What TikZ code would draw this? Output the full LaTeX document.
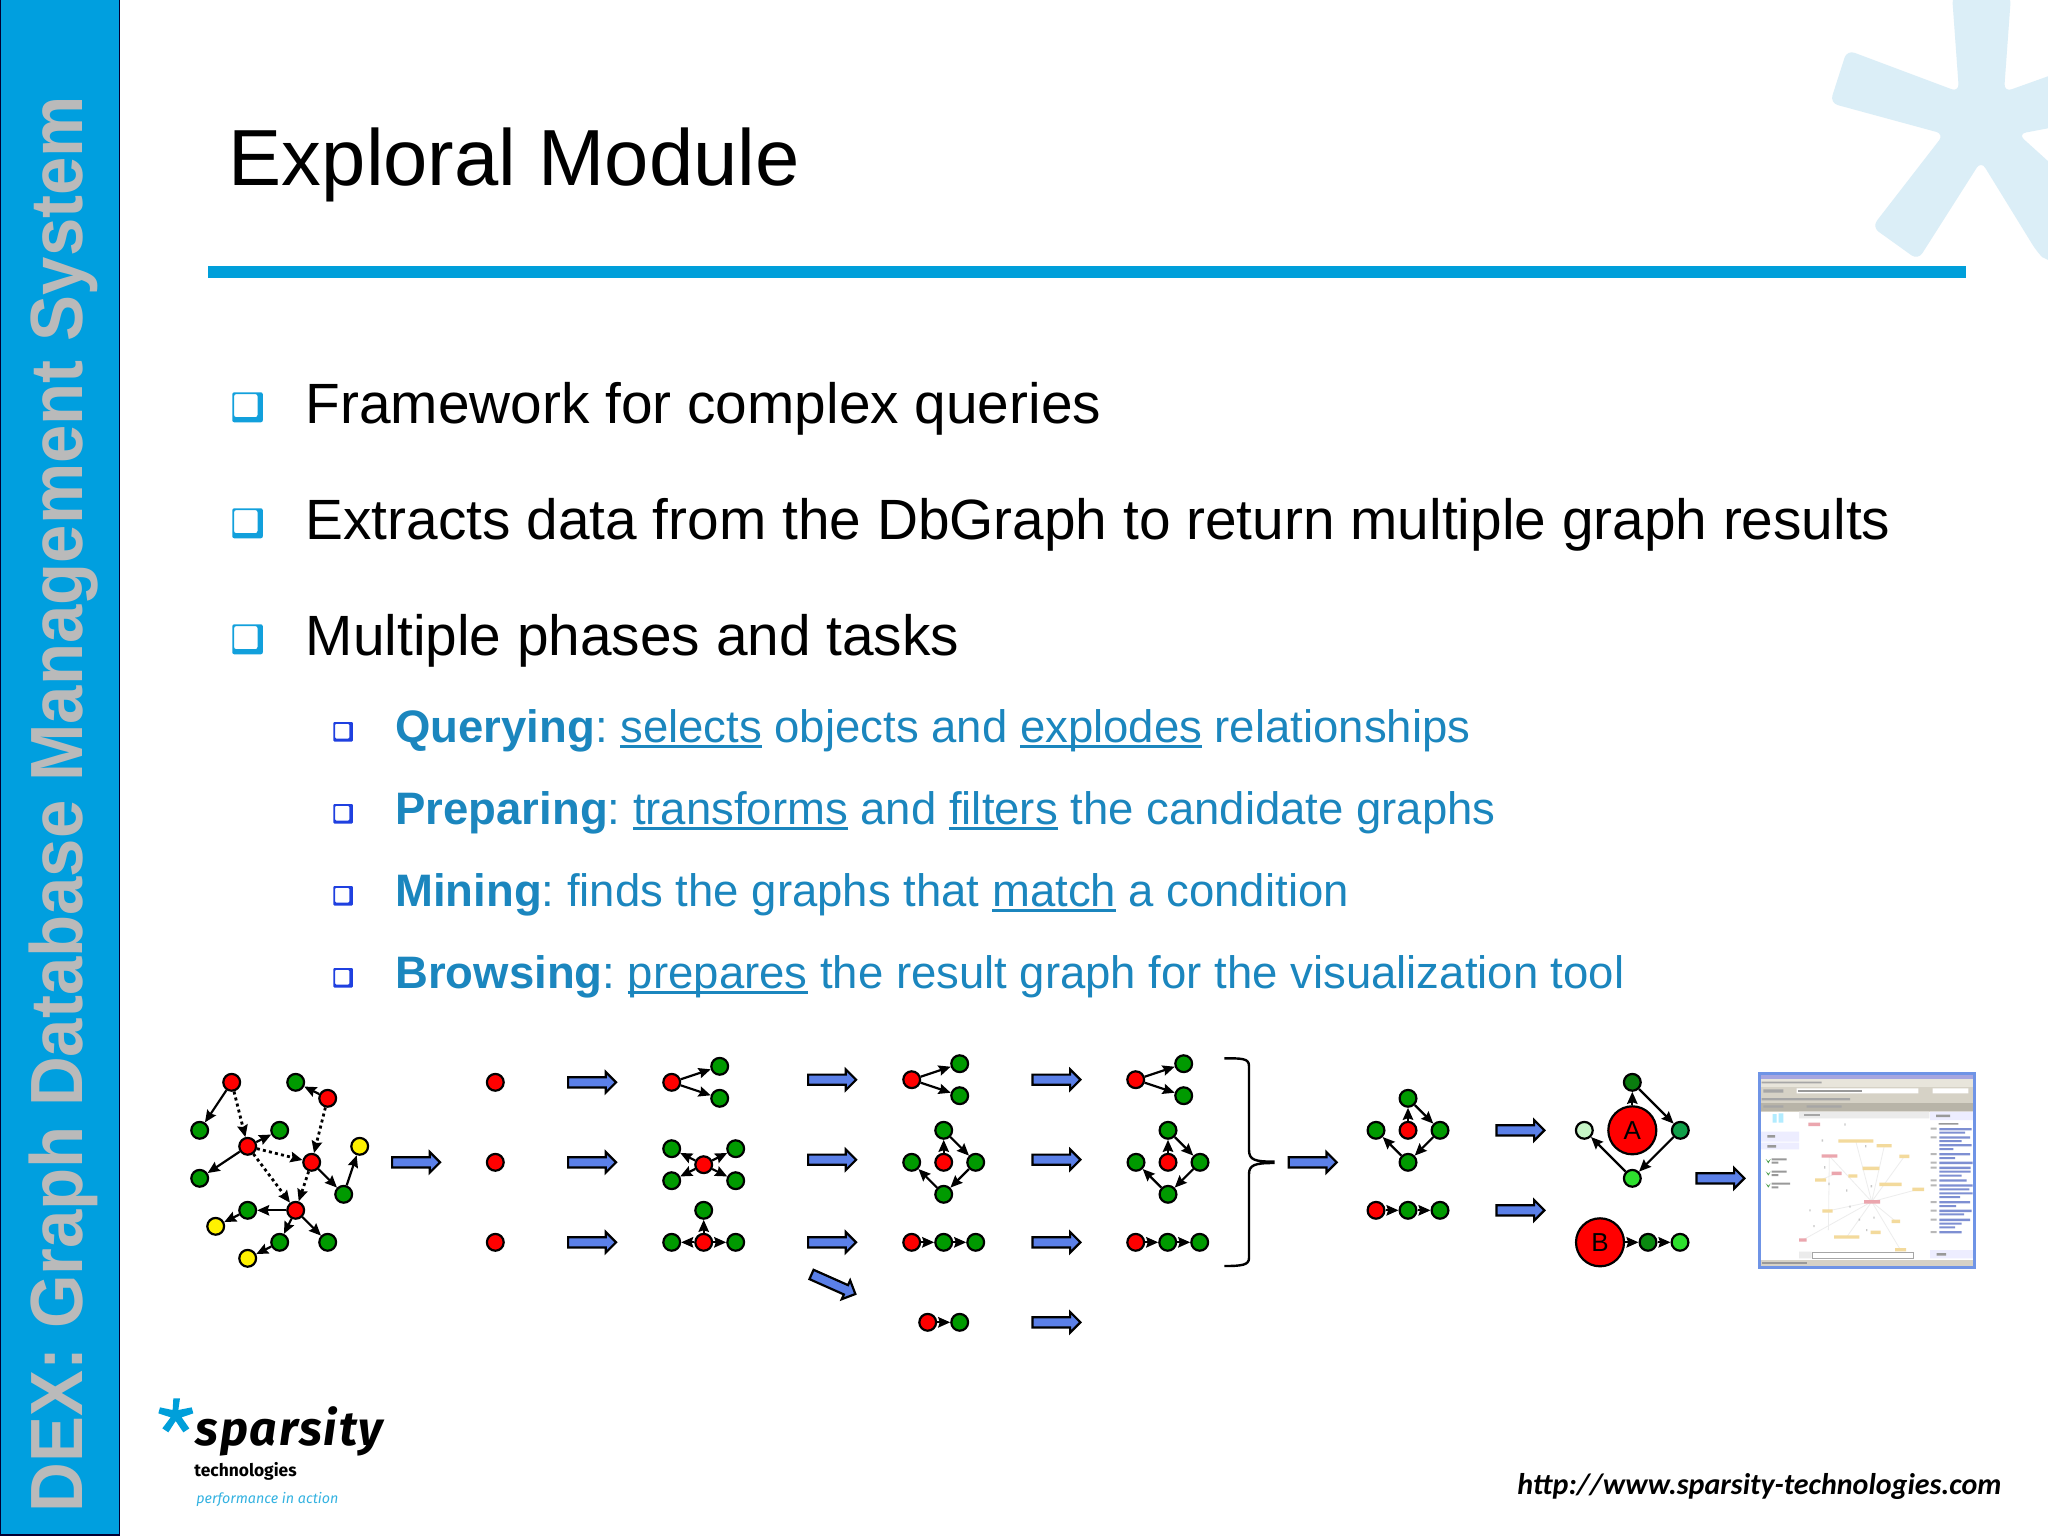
\documentclass[tikz,border=0pt]{standalone}
\usepackage{fontspec}
\usepackage{tikz}
\usetikzlibrary{arrows,arrows.meta,shapes,positioning}
\setmainfont{Liberation Sans}
\newfontfamily\sidefont[FakeStretch=0.931]{Liberation Sans}
\newfontfamily\logofont{Fira Sans}
\newfontfamily\logoname[LetterSpace=4]{Fira Sans}
\newfontfamily\urlfont{Carlito}
\definecolor{barblue}{HTML}{009FDF}
\definecolor{rulerblue}{HTML}{009FDA}
\definecolor{washblue}{HTML}{DBEEF7}
\definecolor{subblue}{HTML}{1B86BE}
\definecolor{smallbox}{HTML}{1F40E0}
\definecolor{bigbox}{HTML}{12A0DC}
\definecolor{vred}{HTML}{FF0000}
\definecolor{vgreen}{HTML}{009A00}
\definecolor{flowblue}{HTML}{5B80E8}
\definecolor{shotframe}{HTML}{6F94E6}
\definecolor{shotbar}{HTML}{D6D2C6}
\definecolor{shotmenu}{HTML}{E8E5DB}
\definecolor{shotdark}{HTML}{B8B4A8}
\definecolor{shotlabel}{HTML}{F3DA9C}
\definecolor{shotpink}{HTML}{EBA6AE}
\definecolor{shottext}{HTML}{7E8FD2}
\newsavebox{\ulbox}
\newcommand{\ulword}[1]{\sbox\ulbox{#1}\rlap{\rule[-0.13em]{\wd\ulbox}{0.055em}}\usebox\ulbox}
\tikzset{
    vertex/.style={circle,draw=black,line width=1.1pt,minimum size=8.4pt,inner sep=0pt},
    redv/.style={vertex,fill=vred},
    greenv/.style={vertex,fill=vgreen},
    yellowv/.style={vertex,fill=yellow},
    bigv/.style={vertex,fill=vred,minimum size=24pt,font=\fontsize{13}{13}\selectfont},
    link/.style={->,line width=1.1pt},
    dotlink/.style={->,line width=1.4pt,dash pattern=on 1.5pt off 1.6pt},
    flow/.style={single arrow,draw=black,fill=flowblue,line width=1.1pt,minimum height=24pt,
        inner sep=2pt,single arrow head extend=2.6pt,single arrow head indent=0pt,anchor=tail},
    line1/.style={anchor=base west,inner sep=0pt,font=\fontsize{28.4}{34}\selectfont},
    line2/.style={anchor=base west,inner sep=0pt,text=subblue,font=\fontsize{22.75}{27}\selectfont\frenchspacing},
    bigbullet/.pic={\fill[bigbox,even odd rule,rounded corners=1pt] (0,0) rectangle (30.5,30) (1.8,1.8) rectangle (25.2,24.8);},
    smallbullet/.pic={\fill[smallbox,even odd rule,rounded corners=.5pt] (0,0) rectangle (19.5,19.5) (1.8,1.8) rectangle (16,16.5);}
}

\begin{document}
\begin{tikzpicture}[>={Stealth[length=6pt,width=5.2pt,inset=.8pt]},x=0.5pt,y=-0.5pt,node distance=16pt]
    \useasboundingbox (0,0) rectangle (2048,1536);
    \fill[white] (0,0) rectangle (2048,1536);

    % page furniture
    \begin{scope}
    \clip (0,0) rectangle (2048,1536);
    \fill[washblue,rounded corners=4pt] (1952,-5) -- (1959,92) -- (1847,50) -- (1830,103) -- (1944,134)
        -- (1872,227) -- (1918,260) -- (1981,161) -- (2037,252) -- (2046,261) -- (2060,261) -- (2060,172) -- (2018,134)
        -- (2060,126) -- (2060,72) -- (2004,92) -- (2011,-5) -- cycle;
    \end{scope}
    \fill[barblue,draw=black!80!blue,line width=.6pt] (.5,-2) rectangle (119.5,1535);
    \node[anchor=base west,rotate=90,inner sep=0pt,text=black!27,font=\sidefont\fontsize{37}{37}\selectfont\bfseries] (sidetitle) at (82,1513)
        {DEX: Graph Database Management System};
    \fill[rulerblue] (208,266) rectangle (1966,278);
    \node[anchor=base west,inner sep=0pt,font=\fontsize{39.8}{48}\selectfont] (title) at (228.5,185.5) {Exploral Module};

    % bullets
    \pic (p1) at (232.3,392.3) {bigbullet};
    \pic (p2) at (232.3,508.3) {bigbullet};
    \pic (p3) at (232.3,624.3) {bigbullet};
    \pic (s1) at (333.3,722) {smallbullet};
    \pic (s2) at (333.3,804) {smallbullet};
    \pic (s3) at (333.3,886) {smallbullet};
    \pic (s4) at (333.3,968) {smallbullet};
    \node[line1] (l1) at (305.3,423.3) {Framework for complex queries};
    \node[line1] (l2) at (305.3,539.3) {Extracts data from the DbGraph to return multiple graph results};
    \node[line1] (l3) at (305.3,655.7) {Multiple phases and tasks};
    \node[line2] (q1) at (395,742) {\textbf{Querying}: \ulword{selects} objects and \ulword{explodes} relationships};
    \node[line2] (q2) at (395,824) {\textbf{Preparing}: \ulword{transforms} and \ulword{filters} the candidate graphs};
    \node[line2] (q3) at (395,906) {\textbf{Mining}: finds the graphs that \ulword{match} a condition};
    \node[line2] (q4) at (395,988) {\textbf{Browsing}: \ulword{prepares} the result graph for the visualization tool};

    % source graph
    \node[redv] (a1) at (231.7,1082.3) {};
    \node[greenv] (a2) [right of=a1, xshift=16pt] {};
    \node[redv] (a3) [right of=a2, yshift=-8pt] {};
    \node[greenv] (a4) [left of=a1, yshift=-24pt] {};
    \node[greenv] (a5) [below of=a2, xshift=-8pt, yshift=-8pt] {};
    \node[redv] (a6) [below of=a1, xshift=8pt, yshift=-16pt] {};
    \node[yellowv] (a7) [right of=a6, xshift=40pt] {};
    \node[greenv] (a8) [below of=a4, yshift=-8pt] {};
    \node[redv] (a9) [right of=a6, xshift=16pt, yshift=-8pt] {};
    \node[greenv] (a10) [right of=a9, yshift=-16pt] {};
    \node[redv] (a11) [below of=a9, xshift=-8pt, yshift=-8pt] {};
    \node[greenv] (a12) [left of=a11, xshift=-8pt] {};
    \node[yellowv] (a13) [left of=a12, yshift=-8pt] {};
    \node[greenv] (a14) [below of=a11, xshift=-8pt] {};
    \node[greenv] (a15) [below of=a11, xshift=16pt] {};
    \node[yellowv] (a16) [left of=a14, yshift=-8pt] {};
    \path[link]
    (a1) edge (a4)
    (a3) edge (a2)
    (a6) edge (a5)
    (a6) edge (a8)
    (a9) edge (a10)
    (a10) edge (a7)
    (a11) edge (a12)
    (a12) edge (a13)
    (a11) edge (a14)
    (a14) edge (a16)
    (a11) edge (a15)
    ;
    \path[dotlink]
    (a1) edge (a6)
    (a3) edge (a9)
    (a6) edge (a9)
    (a6) edge (a11)
    (a9) edge (a11)
    ;

    % selected objects
    \node[redv] (b1) at (495.3,1082.3) {};
    \node[redv] (b2) [below of=b1, yshift=-24pt] {};
    \node[redv] (b3) [below of=b2, yshift=-24pt] {};

    % exploded
    \node[redv] (c1) at (671.7,1082.3) {};
    \node[greenv] (c1a) [right of=c1, xshift=8pt, yshift=8pt] {};
    \node[greenv] (c1b) [right of=c1, xshift=8pt, yshift=-8pt] {};
    \node[redv] (c2) at (703.7,1164.7) {};
    \node[greenv] (c2a) [left of=c2, yshift=8pt] {};
    \node[greenv] (c2b) [right of=c2, yshift=8pt] {};
    \node[greenv] (c2c) [left of=c2, yshift=-8pt] {};
    \node[greenv] (c2d) [right of=c2, yshift=-8pt] {};
    \node[redv] (c3) at (703.7,1242.3) {};
    \node[greenv] (c3a) [above of=c3] {};
    \node[greenv] (c3b) [left of=c3] {};
    \node[greenv] (c3c) [right of=c3] {};
    \path[link]
    (c1) edge (c1a)
    (c1) edge (c1b)
    (c2) edge (c2a)
    (c2) edge (c2b)
    (c2) edge (c2c)
    (c2) edge (c2d)
    (c3) edge (c3a)
    (c3) edge (c3b)
    (c3) edge (c3c)
    ;

    % transformed
    \node[redv] (d1) at (911.7,1079.7) {};
    \node[greenv] (d1a) [right of=d1, xshift=8pt, yshift=8pt] {};
    \node[greenv] (d1b) [right of=d1, xshift=8pt, yshift=-8pt] {};
    \node[redv] (d2) at (943.7,1162.3) {};
    \node[greenv] (d2a) [above of=d2] {};
    \node[greenv] (d2b) [right of=d2] {};
    \node[greenv] (d2c) [below of=d2] {};
    \node[greenv] (d2d) [left of=d2] {};
    \node[redv] (d3) at (911.7,1242.3) {};
    \node[greenv] (d3a) [right of=d3] {};
    \node[greenv] (d3b) [right of=d3a] {};
    \node[redv] (d4) at (927.7,1322.3) {};
    \node[greenv] (d4a) [right of=d4] {};
    \path[link]
    (d1) edge (d1a)
    (d1) edge (d1b)
    (d2) edge (d2a)
    (d2a) edge (d2b)
    (d2b) edge (d2c)
    (d2c) edge (d2d)
    (d3) edge (d3a)
    (d3a) edge (d3b)
    (d4) edge (d4a)
    ;

    % candidates
    \node[redv] (e1) at (1135.7,1079.7) {};
    \node[greenv] (e1a) [right of=e1, xshift=8pt, yshift=8pt] {};
    \node[greenv] (e1b) [right of=e1, xshift=8pt, yshift=-8pt] {};
    \node[redv] (e2) at (1168,1162.3) {};
    \node[greenv] (e2a) [above of=e2] {};
    \node[greenv] (e2b) [right of=e2] {};
    \node[greenv] (e2c) [below of=e2] {};
    \node[greenv] (e2d) [left of=e2] {};
    \node[redv] (e3) at (1135.7,1242.3) {};
    \node[greenv] (e3a) [right of=e3] {};
    \node[greenv] (e3b) [right of=e3a] {};
    \path[link]
    (e1) edge (e1a)
    (e1) edge (e1b)
    (e2) edge (e2a)
    (e2a) edge (e2b)
    (e2b) edge (e2c)
    (e2c) edge (e2d)
    (e3) edge (e3a)
    (e3a) edge (e3b)
    ;
    \draw[line width=1.2pt] (1224.3,1058.3) .. controls (1242,1058.3) and (1249,1058.3) .. (1249,1066) -- (1249,1150)
        .. controls (1249,1160) and (1255,1161.6) .. (1273.3,1161.6) -- (1273.3,1163)
        .. controls (1255,1163) and (1249,1165) .. (1249,1174) -- (1249,1258)
        .. controls (1249,1265) and (1242,1266) .. (1224.3,1266);

    % mined
    \node[redv] (f1) at (1408,1130.3) {};
    \node[greenv] (f1a) [above of=f1] {};
    \node[greenv] (f1b) [right of=f1] {};
    \node[greenv] (f1c) [below of=f1] {};
    \node[greenv] (f1d) [left of=f1] {};
    \node[redv] (f2) at (1376,1210.3) {};
    \node[greenv] (f2a) [right of=f2] {};
    \node[greenv] (f2b) [right of=f2a] {};
    \path[link]
    (f1) edge (f1a)
    (f1a) edge (f1b)
    (f1b) edge (f1c)
    (f1c) edge (f1d)
    (f2) edge (f2a)
    (f2a) edge (f2b)
    ;

    % browsing
    \node[bigv] (g1) at (1632.3,1130.3) {A};
    \node[vertex,fill={rgb,255:red,10;green,125;blue,15}] (g1a) [above of=g1, yshift=8pt] {};
    \node[vertex,fill={rgb,255:red,16;green,160;blue,74}] (g1b) [right of=g1, xshift=8pt] {};
    \node[vertex,fill={rgb,255:red,46;green,224;blue,46}] (g1c) [below of=g1, yshift=-8pt] {};
    \node[vertex,fill={rgb,255:red,198;green,245;blue,198}] (g1d) [left of=g1, xshift=-8pt] {};
    \node[bigv] (g2) at (1600,1242.3) {B};
    \node[vertex,fill={rgb,255:red,10;green,138;blue,16}] (g2a) [right of=g2, xshift=8pt] {};
    \node[vertex,fill={rgb,255:red,46;green,224;blue,46}] (g2b) [right of=g2a] {};
    \path[link]
    (g1) edge (g1a)
    (g1a) edge (g1b)
    (g1b) edge (g1c)
    (g1c) edge (g1d)
    (g2) edge (g2a)
    (g2a) edge (g2b)
    ;

    % block arrows
    \node[flow] (r1) at (391,1162.3) {};
    \node[flow] (r2) at (567,1082.3) {};
    \node[flow] (r3) at (567,1162.3) {};
    \node[flow] (r4) at (567,1242.3) {};
    \node[flow] (r5) at (807,1079.7) {};
    \node[flow] (r6) at (807,1159.7) {};
    \node[flow] (r7) at (807,1242.3) {};
    \node[flow,rotate=-24] (r8) at (810.5,1274) {};
    \node[flow] (r9) at (1031.3,1079.7) {};
    \node[flow] (r10) at (1031.3,1159.7) {};
    \node[flow] (r11) at (1031.3,1242.3) {};
    \node[flow] (r12) at (1031.3,1322.3) {};
    \node[flow] (r13) at (1287.6,1162.3) {};
    \node[flow] (r14) at (1495.3,1130.3) {};
    \node[flow] (r15) at (1495.3,1210.3) {};
    \node[flow] (r16) at (1695.3,1178.3) {};

    % screenshot, drawn in thirds of a pixel
    \begin{scope}[shift={(1500,1030)},x=0.16667pt,y=-0.16667pt]
    \fill[white] (775,128) rectangle (1425,715);
    \fill[shotbar] (780,130) rectangle (1420,245);
    \fill[black!35!blue!35!white] (780,133) rectangle (1420,148);
    \fill[shotmenu] (780,148) rectangle (1420,170);
    \fill[shotdark] (780,218) rectangle (1420,242);
    \fill[white] (890,175) rectangle (1255,190) (1298,175) rectangle (1405,190);
    \fill[black!35] (785,155) rectangle (965,160) (790,178) rectangle (850,188)
        (785,204) rectangle (1050,211) (790,226) rectangle (850,233) (920,226) rectangle (1025,233);
    \fill[black!40] (895,181) rectangle (1085,185);
    \fill[blue!7] (780,305) rectangle (897,335) (780,338) rectangle (897,358) (1290,245) rectangle (1420,270) (1290,660) rectangle (1420,685);
    \fill[blue!25!cyan!30] (818,252) rectangle (830,278) (836,250) rectangle (850,278);
    \fill[black!40] (802,315) rectangle (825,323) (802,345) rectangle (828,353) (815,385) rectangle (860,391) (815,395) rectangle (835,401)
        (815,422) rectangle (860,428) (815,432) rectangle (835,438) (815,458) rectangle (870,464) (815,469) rectangle (835,475) (1310,669) rectangle (1338,677)
        (1308,254) rectangle (1350,261) (1316,279) rectangle (1375,284);
    \fill[green!45!black!70!white] (797,387) -- (805,400) -- (812,387) -- (805,394) -- cycle (797,424) -- (805,437) -- (812,424) -- (805,431) -- cycle (797,460) -- (805,473) -- (812,460) -- (805,467) -- cycle;
    \fill[black!8] (897,245) rectangle (1288,265) (897,665) rectangle (935,685);
    \fill[black!35] (912,252) rectangle (960,259);
    \draw[black!35,line width=.3pt] (938,667) rectangle (1240,684);
    \fill[shotbar] (780,690) rectangle (1420,710);
    \fill[black!40] (785,697) rectangle (922,702);
    % faint edges of the result graph
    \draw[black!7,line width=.4pt] (1115,515) -- (1067,333) (1115,515) -- (1153,347) (1115,515) -- (1213,379) (1115,515) -- (988,378) (1115,515) -- (1254,478)
        (1115,515) -- (982,543) (1115,515) -- (1187,574) (1115,515) -- (1040,621) (1115,515) -- (1201,659) (1115,515) -- (908,630) (1010,430) -- (960,450) (988,378) -- (985,600);
    % labels of the result graph
    \fill[shotlabel] (1015,328) rectangle (1120,338) (1130,342) rectangle (1175,352) (1198,374) rectangle (1228,384) (1088,410) rectangle (1138,420)
        (1045,433) rectangle (1072,443) (945,445) rectangle (978,455) (1138,458) rectangle (1205,468) (1237,473) rectangle (1272,483) (967,538) rectangle (998,548)
        (1175,569) rectangle (1200,579) (1112,602) rectangle (1142,612) (1002,616) rectangle (1078,626) (1185,654) rectangle (1218,664);
    \fill[shotpink] (925,278) rectangle (960,288) (965,373) rectangle (1012,383) (995,425) rectangle (1025,435) (1092,510) rectangle (1140,521) (897,625) rectangle (920,635);
    \fill[black!22] (1033,280) rectangle (1037,287) (965,328) rectangle (969,335) (1095,345) rectangle (1099,352) (972,408) rectangle (976,416) (985,458) rectangle (989,465)
        (1038,478) rectangle (1042,485) (1112,465) rectangle (1116,472) (1048,527) rectangle (1052,533) (928,538) rectangle (932,544) (1076,566) rectangle (1080,572)
        (1120,560) rectangle (1124,566) (940,585) rectangle (944,591) (1098,597) rectangle (1102,603);
    % text of the information panel
    \fill[shottext] (1318,294) rectangle (1415,301) (1318,305) rectangle (1395,311) (1318,319) rectangle (1410,326) (1318,330) rectangle (1385,336)
        (1318,342) rectangle (1415,349) (1318,354) rectangle (1360,360) (1318,369) rectangle (1410,376) (1318,381) rectangle (1365,387) (1318,395) rectangle (1418,402)
        (1318,410) rectangle (1412,417) (1318,422) rectangle (1412,428) (1318,434) rectangle (1385,440) (1318,448) rectangle (1400,455) (1318,463) rectangle (1418,470)
        (1318,475) rectangle (1408,481) (1318,487) rectangle (1418,493) (1318,498) rectangle (1380,504) (1318,513) rectangle (1410,520) (1318,525) rectangle (1368,531)
        (1318,539) rectangle (1415,546) (1318,550) rectangle (1392,556) (1318,566) rectangle (1410,573) (1318,578) rectangle (1385,584) (1318,589) rectangle (1365,595)
        (1318,603) rectangle (1385,610);
    \fill[black!28] (1292,293) rectangle (1310,299) (1292,319) rectangle (1310,325) (1292,369) rectangle (1310,375) (1292,395) rectangle (1310,401) (1292,410) rectangle (1310,416)
        (1292,448) rectangle (1310,454) (1292,463) rectangle (1310,469) (1292,513) rectangle (1310,519) (1292,539) rectangle (1310,545) (1292,566) rectangle (1310,572) (1292,603) rectangle (1310,609);
    \draw[shotframe,line width=1.5pt] (777,130) rectangle (1423,713);
    \end{scope}

    % logo
    \begin{scope}[shift={(0,1360)},x=0.16667pt,y=-0.16667pt]
    \fill[rulerblue] (520,115) -- (540,115) -- (535,150) -- (575,142) -- (580,160) -- (545,172) -- (568,205) -- (550,217) -- (527,183)
        -- (505,217) -- (487,205) -- (512,172) -- (475,160) -- (480,142) -- (518,150) -- cycle;
    \end{scope}
    \node[anchor=base west,inner sep=0pt,font=\logoname\fontsize{24}{24}\selectfont\bfseries\itshape] (logoname) at (195,1445) {sparsity};
    \node[anchor=base west,inner sep=0pt,font=\logofont\fontsize{8.7}{12}\selectfont\bfseries] (logotech) at (194,1476.7) {technologies};
    \node[anchor=base west,inner sep=0pt,text=rulerblue!80!white,font=\logofont\fontsize{7.15}{12}\selectfont\itshape] (logotag) at (196,1503) {performance in action};
    \node[anchor=base west,inner sep=0pt,font=\urlfont\fontsize{15}{18}\selectfont\bfseries\itshape] (weburl) at (1517,1494) {http://www.sparsity-technologies.com};
\end{tikzpicture}
\end{document}
